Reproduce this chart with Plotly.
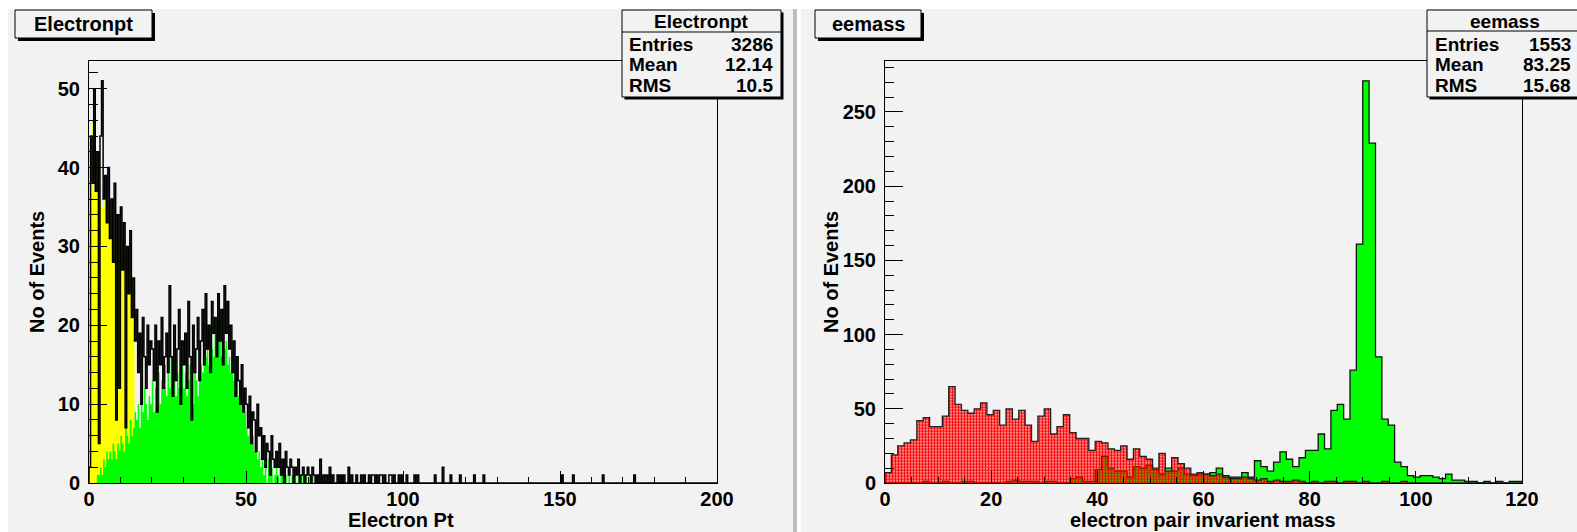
import plotly.graph_objects as go

W, H = 1577, 532
FONT = "Liberation Sans, Arial, Helvetica, sans-serif"

# ---------------- data: left pad (Electronpt) ----------------
pt_bin_width = 0.5
pt_range = [0, 200]
# black outline histogram, 0.5-wide bins from 0 to 100
pt_black = [
    2, 44, 38, 50, 37, 42, 5, 44, 51, 36,
    39, 33, 40, 31, 36, 28, 38, 8, 34, 12,
    35, 27, 33, 7, 30, 24, 32, 21, 26, 18,
    22, 14, 19, 10, 21, 16, 12, 20, 15, 18,
    17, 13, 20, 9, 18, 15, 21, 12, 16, 19,
    14, 25, 16, 11, 20, 13, 17, 22, 10, 18,
    15, 19, 12, 23, 16, 8, 20, 14, 17, 21,
    13, 18, 22, 15, 24, 17, 20, 14, 23, 19,
    21, 16, 24, 18, 22, 15, 25, 19, 23, 17,
    20, 14, 18, 11, 16, 13, 10, 15, 9, 12,
    10, 7, 11, 5, 9, 8, 4, 10, 6, 7,
    3, 6, 2, 5, 4, 1, 6, 3, 2, 4,
    2, 5, 1, 3, 0, 4, 2, 1, 3, 2,
    0, 2, 1, 3, 0, 1, 2, 0, 1, 2,
    1, 0, 2, 1, 0, 1, 0, 3, 0, 1,
    0, 1, 0, 2, 0, 1, 0, 0, 1, 0,
    1, 0, 1, 0, 0, 2, 0, 1, 0, 0,
    1, 0, 0, 1, 0, 1, 0, 0, 1, 0,
    1, 1, 0, 1, 0, 1, 1, 0, 1, 0,
    0, 1, 1, 0, 1, 0, 0, 1, 0, 1,
]
# sparse high-pt tail of the black histogram (bin low edge, count)
pt_tail_low = [101.0, 103.5, 104.5, 110.0, 112.5, 115.0, 118.0, 122.5, 125.5, 150.5, 154.0, 163.5, 173.5]
pt_tail_count = [1, 1, 1, 1, 2, 1, 1, 1, 1, 1, 1, 1, 1]
# yellow filled histogram, 0.5-wide bins from 0 to 15
pt_yellow = [
    2, 37, 46, 37, 41, 40, 38, 36, 35, 36,
    35, 34, 33, 34, 32, 33, 32, 31, 30, 31,
    29, 30, 28, 29, 28, 27, 28, 26, 20, 4,
]
# green filled histogram, 0.5-wide bins from 0 to 75
pt_green = [
    0, 0, 0, 0, 0, 1, 1, 2, 1, 3,
    2, 4, 3, 4, 3, 5, 4, 3, 5, 4,
    6, 5, 4, 7, 6, 5, 8, 6, 7, 9,
    8, 10, 7, 11, 9, 12, 10, 8, 11, 10,
    13, 9, 12, 11, 14, 10, 13, 12, 15, 11,
    14, 12, 16, 13, 15, 11, 14, 12, 13, 15,
    12, 14, 11, 13, 15, 12, 10, 14, 13, 11,
    13, 15, 14, 17, 16, 18, 15, 19, 17, 16,
    19, 17, 21, 18, 16, 19, 17, 18, 15, 16,
    14, 16, 13, 12, 14, 11, 12, 10, 11, 9,
    7, 6, 8, 5, 6, 4, 5, 3, 4, 2,
    3, 1, 2, 0, 3, 1, 2, 0, 1, 2,
    1, 0, 1, 2, 0, 1, 0, 1, 0, 1,
    0, 1, 0, 1, 0, 0, 1, 0, 1, 0,
    0, 0, 1, 0, 0, 1, 0, 0, 0, 0,
]
pt_stats = [("Entries", "3286"), ("Mean", "12.14"), ("RMS", "10.5")]

# ---------------- data: right pad (eemass) ----------------
mass_bin_width = 1.2
mass_range = [0, 120]
mass_red = [
    7, 19, 25, 27, 29, 42, 44, 38, 38, 45,
    65, 53, 49, 47, 50, 54, 46, 49, 39, 50,
    43, 49, 39, 28, 45, 50, 33, 38, 46, 34,
    30, 30, 22, 28, 27, 23, 22, 25, 16, 23,
    18, 16, 10, 20, 8, 17, 13, 10, 6, 7,
    6, 5, 6, 4, 3, 3, 4, 3, 2, 3,
    1, 2, 1, 1, 2, 1, 0, 1, 0, 1,
    1, 0, 1, 1, 0, 1, 0, 0, 1, 0,
    0, 1, 0, 0, 0, 0, 0, 0, 0, 0,
    0, 0, 0, 0, 0, 0, 0, 0, 0, 0,
]
mass_green = [
    0, 0, 0, 0, 0, 0, 1, 0, 0, 1,
    0, 0, 1, 1, 0, 0, 0, 0, 0, 1,
    2, 1, 1, 1, 0, 1, 1, 0, 0, 3,
    4, 1, 1, 9, 18, 10, 8, 8, 4, 11,
    10, 12, 9, 6, 10, 8, 10, 6, 5, 6,
    6, 7, 10, 5, 4, 4, 7, 4, 15, 11,
    8, 14, 21, 16, 11, 17, 22, 22, 33, 23,
    49, 53, 43, 76, 161, 271, 229, 85, 43, 39,
    14, 11, 5, 4, 5, 5, 4, 3, 6, 2,
    2, 1, 1, 0, 1, 0, 1, 0, 1, 1,
]
mass_stats = [("Entries", "1553"), ("Mean", "83.25"), ("RMS", "15.68")]

# ---------------- helpers ----------------
def step_points(values, width, start=0.0):
    xs = [start]
    ys = [0]
    for i, v in enumerate(values):
        xs.append(start + i * width)
        ys.append(v)
    xs.append(start + len(values) * width)
    ys.append(0)
    return xs, ys

def fx(p):
    return p / W

def fy(p):
    return 1 - p / H

# full black histogram over 0-200
n_full = int(round((pt_range[1] - pt_range[0]) / pt_bin_width))
black_full = [0] * n_full
for i, v in enumerate(pt_black):
    black_full[i] = v
for lo, c in zip(pt_tail_low, pt_tail_count):
    black_full[int(round(lo / pt_bin_width))] = c

fig = go.Figure()

# left pad traces
x, y = step_points(pt_yellow, pt_bin_width)
fig.add_trace(go.Scatter(x=x, y=y, mode="lines", line=dict(shape="hv", width=0, color="#ffff00"),
                         fill="tozeroy", fillcolor="#ffff00", xaxis="x", yaxis="y", hoverinfo="skip"))
x, y = step_points(pt_green, pt_bin_width)
fig.add_trace(go.Scatter(x=x, y=y, mode="lines", line=dict(shape="hv", width=0, color="#00ff00"),
                         fill="tozeroy", fillcolor="#00ff00", xaxis="x", yaxis="y", hoverinfo="skip"))
x, y = step_points(black_full, pt_bin_width)
fig.add_trace(go.Scatter(x=x, y=y, mode="lines", line=dict(shape="hv", width=1.5, color="black"),
                         xaxis="x", yaxis="y", hoverinfo="skip"))

# right pad traces
x, y = step_points(mass_green, mass_bin_width)
fig.add_trace(go.Scatter(x=x, y=y, mode="lines", line=dict(shape="hv", width=1.3, color="#111111"),
                         fill="tozeroy", fillcolor="#00ff00", xaxis="x2", yaxis="y2", hoverinfo="skip"))
x, y = step_points(mass_red, mass_bin_width)
fig.add_trace(go.Scatter(x=x, y=y, mode="lines", line=dict(shape="hv", width=1.3, color="#222222"),
                         fill="tozeroy", fillcolor="#ff0000",
                         fillpattern=dict(shape=".", size=3, solidity=0.7, fillmode="replace",
                                          fgcolor="#ff0000", bgcolor="rgba(0,0,0,0)"),
                         xaxis="x2", yaxis="y2", hoverinfo="skip"))

tickfont = dict(family=FONT, size=20, color="black", weight="bold")

def xaxis_cfg(domain, rng, dtick, mdtick, anchor):
    return dict(domain=domain, range=rng, anchor=anchor, automargin=False,
                showline=True, linecolor="black", linewidth=1,
                mirror=True, ticks="inside", ticklen=12, tickwidth=1, tickcolor="black",
                tick0=0, dtick=dtick, tickfont=tickfont, showgrid=False, zeroline=False,
                ticklabelstandoff=-2,
                minor=dict(ticks="inside", ticklen=6, tickwidth=1, tickcolor="black", dtick=mdtick, tick0=0,
                           showgrid=False),
                fixedrange=True)

def yaxis_cfg(domain, rng, dtick, mdtick, anchor):
    return dict(domain=domain, range=rng, anchor=anchor, automargin=False,
                showline=True, linecolor="black", linewidth=1,
                mirror=True, ticks="inside", ticklen=18, tickwidth=1, tickcolor="black",
                tick0=0, dtick=dtick, tickfont=tickfont, showgrid=False, zeroline=False,
                ticklabelstandoff=4,
                minor=dict(ticks="inside", ticklen=9, tickwidth=1, tickcolor="black", dtick=mdtick, tick0=0,
                           showgrid=False),
                fixedrange=True)

ydom = [fy(483), fy(60.7)]
pt_ymax = max(max(black_full), max(pt_yellow), max(pt_green)) * 1.05
mass_ymax = max(max(mass_red), max(mass_green)) * 1.05

shapes = []
def rect(x0, y0, x1, y1, fill, line_color=None, lw=0, layer="above"):
    shapes.append(dict(type="rect", xref="paper", yref="paper", x0=fx(x0), x1=fx(x1), y0=fy(y1), y1=fy(y0),
                       fillcolor=fill, line=dict(color=line_color or fill, width=lw), layer=layer))

def hline(x0, x1, yv, color="black", lw=1):
    shapes.append(dict(type="line", xref="paper", yref="paper", x0=fx(x0), x1=fx(x1), y0=fy(yv), y1=fy(yv),
                       line=dict(color=color, width=lw), layer="above"))

PAD = "#f2f2f2"
# pads
rect(8, 9, 793, 540, PAD, layer="below")
rect(793, 9, 797, 540, "#bdbdbd", layer="below")
rect(801, 9, 1590, 540, PAD, layer="below")

annotations = []
def ann(text, x, y, size=20, xanchor="center", angle=0):
    annotations.append(dict(text=text, x=fx(x), y=fy(y), xref="paper", yref="paper", showarrow=False,
                            xanchor=xanchor, yanchor="middle", textangle=angle, borderpad=0,
                            font=dict(family=FONT, size=size, color="black", weight="bold")))

# title boxes
for (x0, x1, label) in [(15, 152, "Electronpt"), (815, 921, "eemass")]:
    rect(x0 + 3, 13, x1 + 3, 41, "black")
    rect(x0, 10, x1, 38, PAD, "black", 1)
    ann(label, (x0 + x1) / 2, 24.5, 20)

# stats boxes
for (x0, x1, sep, header, stats, lx, rx) in [
    (622, 781, 32, "Electronpt", pt_stats, 628, 774),
    (1427, 1595, 31, "eemass", mass_stats, 1434, 1572),
]:
    rect(x0 + 2.5, 12.5, x1 + 2.5, 99.5, "black")
    rect(x0, 10, x1, 97, PAD, "black", 1)
    hline(x0, x1, sep)
    hx = (x0 + x1) / 2 if x1 < 1577 else 1505
    ann(header, hx, 21, 19)
    for i, (k, v) in enumerate(stats):
        yy = 44.5 + i * 20.3
        ann(k, lx, yy, 19, "left")
        ann(v, rx, yy, 19, "right")

# axis titles
ann("No of Events", 37, 272, 20, angle=-90)
ann("No of Events", 831, 272, 20, angle=-90)
ann("Electron Pt", 401, 519.5, 20)
ann("electron pair invarient mass", 1203, 519.5, 20)

fig.update_layout(
    width=W, height=H, autosize=False,
    margin=dict(l=0, r=0, t=0, b=0, pad=0, autoexpand=False),
    paper_bgcolor="white", plot_bgcolor=PAD,
    showlegend=False,
    xaxis=xaxis_cfg([fx(89), fx(717)], pt_range, 50, 10, "y"),
    yaxis=yaxis_cfg(ydom, [0, pt_ymax], 10, 2, "x"),
    xaxis2=xaxis_cfg([fx(885), fx(1522)], mass_range, 20, 5, "y2"),
    yaxis2=yaxis_cfg(ydom, [0, mass_ymax], 50, 10, "x2"),
    shapes=shapes,
    annotations=annotations,
)

fig.write_html("out.html")
